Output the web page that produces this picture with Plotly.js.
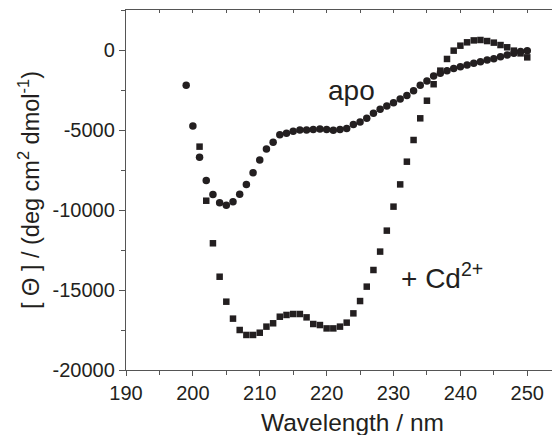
<!DOCTYPE html>
<html>
<head>
<meta charset="utf-8">
<script src="https://cdn.plot.ly/plotly-3.0.1.min.js"></script>
<style>html,body{margin:0;padding:0;background:#fff;}#chart{width:552px;height:435px;}</style>
</head>
<body>
<div id="chart"></div>
<script>
// Wavelength (nm)
const apoX = [199,200,201,202,203,204,205,206,207,208,209,210,211,212,213,214,215,216,217,218,219,220,221,222,223,224,225,226,227,228,229,230,231,232,233,234,235,236,237,238,239,240,241,242,243,244,245,246,247,248,249,250];
const apoY = [-2200,-4750,-6700,-8150,-9030,-9540,-9700,-9480,-9020,-8400,-7670,-6880,-6190,-5770,-5300,-5200,-5080,-5000,-5000,-4970,-4930,-4970,-5020,-4970,-4900,-4650,-4500,-4270,-3960,-3710,-3500,-3290,-3060,-2850,-2540,-2210,-1940,-1625,-1460,-1290,-1150,-1040,-940,-830,-730,-625,-540,-420,-310,-210,-100,-40];
const cdX = [201,202,203,204,205,206,207,208,209,210,211,212,213,214,215,216,217,218,219,220,221,222,223,224,225,226,227,228,229,230,231,232,233,234,235,236,237,238,239,240,241,242,243,244,245,246,247,248,249,250];
const cdY = [-6040,-9420,-12080,-14170,-15730,-16790,-17500,-17810,-17810,-17670,-17290,-17080,-16670,-16560,-16500,-16500,-16710,-17125,-17190,-17400,-17400,-17290,-17040,-16460,-15690,-14790,-13750,-12600,-11290,-9790,-8400,-6980,-5625,-4270,-3170,-2140,-1290,-560,-40,270,480,600,625,560,460,310,170,-40,-210,-460];
const xTicks = [190,200,210,220,230,240,250];
const yTicks = [-20000,-15000,-10000,-5000,0];
const labelApo = 'apo';
const labelCd = '+ Cd<sup>2+</sup>';
const xTitle = 'Wavelength / nm';
const yTitle = '[ Θ ] / (deg cm<sup>2</sup> dmol<sup>-1</sup>)';

const ink = '#231f20';
const fnt = 'Arial, "Liberation Sans", sans-serif';

const traces = [
  {x: apoX, y: apoY, mode: 'markers', type: 'scatter', name: 'apo',
   marker: {symbol: 'circle', size: 7.5, color: ink}},
  {x: cdX, y: cdY, mode: 'markers', type: 'scatter', name: 'Cd',
   marker: {symbol: 'square', size: 6.5, color: ink}},
  {x: [], y: [], xaxis: 'x2', yaxis: 'y', showlegend: false}
];

const layout = {
  width: 552, height: 435,
  margin: {l: 126, r: 0, t: 10, b: 65, pad: 0},
  paper_bgcolor: '#fff', plot_bgcolor: '#fff',
  showlegend: false,
  font: {family: fnt, color: ink, size: 20},
  xaxis: {
    range: [190, 253.7], tickvals: xTicks, ticktext: xTicks.map(String),
    showgrid: false, zeroline: false, showline: true, linecolor: '#555', linewidth: 1.2,
    ticks: 'outside', ticklen: 5, tickcolor: '#555', tickwidth: 1,
    minor: {dtick: 5, tick0: 190, ticks: 'outside', ticklen: 4, tickcolor: '#555', showgrid: false},
    tickfont: {size: 20, family: fnt, color: ink}
  },
  xaxis2: {
    overlaying: 'x', matches: 'x', side: 'top', anchor: 'y',
    range: [190, 253.7], dtick: 5, tick0: 190, showticklabels: false,
    showgrid: false, zeroline: false, showline: true, linecolor: '#555', linewidth: 1.2,
    ticks: 'inside', ticklen: 3, tickcolor: '#555'
  },
  yaxis: {
    range: [-20000, 2500], tickvals: yTicks, ticktext: yTicks.map(String),
    showgrid: false, zeroline: false, showline: true, linecolor: '#555', linewidth: 1.2,
    ticks: 'outside', ticklen: 6, tickcolor: '#555', tickwidth: 1,
    minor: {dtick: 2500, tick0: 0, ticks: 'outside', ticklen: 4, tickcolor: '#555', showgrid: false},
    tickfont: {size: 20, family: fnt, color: ink},
    title: {text: yTitle, font: {size: 23.5, family: fnt, color: ink}, standoff: 6}
  },
  annotations: [
    {x: 219.9, y: -2500, xref: 'x', yref: 'y', text: labelApo, showarrow: false,
     xanchor: 'left', yanchor: 'middle', font: {size: 28, family: fnt, color: ink}},
    {x: 230.8, y: -14150, xref: 'x', yref: 'y', text: labelCd, showarrow: false,
     xanchor: 'left', yanchor: 'middle', font: {size: 28, family: fnt, color: ink}},
    {x: 0.531, y: -0.147, xref: 'paper', yref: 'paper', text: xTitle, showarrow: false,
     xanchor: 'center', yanchor: 'middle', font: {size: 24.5, family: fnt, color: ink}}
  ]
};

Plotly.newPlot('chart', traces, layout, {displayModeBar: false, staticPlot: true});
</script>
</body>
</html>
